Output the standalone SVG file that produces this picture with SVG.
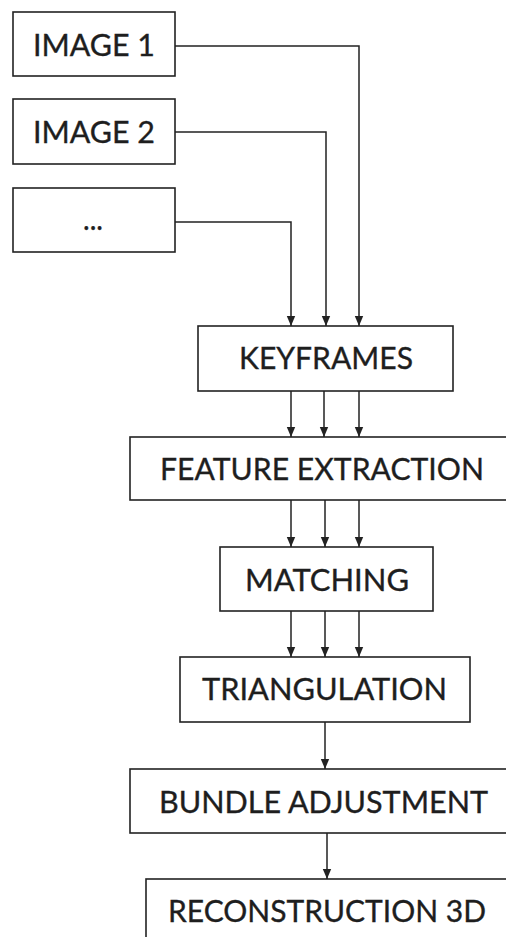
<svg xmlns="http://www.w3.org/2000/svg" width="506" height="937" viewBox="0 0 506 937">
  <style>
    .box { fill: #ffffff; stroke: #222222; stroke-width: 1.6; }
    .lbl { font-family: Lato, "Open Sans", sans-serif; font-size: 31px; fill: #1e1e1e; stroke: #1e1e1e; stroke-width: 0.35; }
    .wire { fill: none; stroke: #222222; stroke-width: 1.5; }
  </style>
  <defs>
    <marker id="arrow" markerUnits="userSpaceOnUse" markerWidth="10" markerHeight="10" viewBox="0 0 10 10" refX="10" refY="5" orient="auto">
      <path d="M0,0.8 L10,5 L0,9.2 z" fill="#222222"/>
    </marker>
  </defs>

  <rect width="506" height="937" fill="#ffffff"/>

  <g id="image1"><rect class="box" x="13" y="12" width="162" height="64"/><text class="lbl" x="33" y="56" textLength="122" lengthAdjust="spacingAndGlyphs">IMAGE 1</text></g>
  <g id="image2"><rect class="box" x="13" y="99" width="162" height="65"/><text class="lbl" x="33" y="143" textLength="122" lengthAdjust="spacingAndGlyphs">IMAGE 2</text></g>
  <g id="more"><rect class="box" x="13" y="188" width="162" height="64"/><text class="lbl" x="83" y="230" textLength="20" lengthAdjust="spacingAndGlyphs">...</text></g>
  <g id="keyframes"><rect class="box" x="198" y="326" width="255" height="65"/><text class="lbl" x="239" y="369" textLength="174" lengthAdjust="spacingAndGlyphs">KEYFRAMES</text></g>
  <g id="feature-extraction"><rect class="box" x="130" y="437" width="390" height="63"/><text class="lbl" x="160" y="480" textLength="324" lengthAdjust="spacingAndGlyphs">FEATURE EXTRACTION</text></g>
  <g id="matching"><rect class="box" x="220" y="547" width="213" height="64"/><text class="lbl" x="245" y="591" textLength="164" lengthAdjust="spacingAndGlyphs">MATCHING</text></g>
  <g id="triangulation"><rect class="box" x="180" y="657" width="290" height="65"/><text class="lbl" x="202" y="700" textLength="245" lengthAdjust="spacingAndGlyphs">TRIANGULATION</text></g>
  <g id="bundle-adjustment"><rect class="box" x="130" y="769" width="390" height="64"/><text class="lbl" x="159" y="813" textLength="329" lengthAdjust="spacingAndGlyphs">BUNDLE ADJUSTMENT</text></g>
  <g id="reconstruction-3d"><rect class="box" x="146" y="879" width="374" height="80"/><text class="lbl" x="168" y="922" textLength="318" lengthAdjust="spacingAndGlyphs">RECONSTRUCTION 3D</text></g>

  <g id="connectors">
    <path class="wire" marker-end="url(#arrow)" d="M175,46 H359 V326"/>
    <path class="wire" marker-end="url(#arrow)" d="M175,132 H326 V326"/>
    <path class="wire" marker-end="url(#arrow)" d="M175,222 H291 V326"/>

    <path class="wire" marker-end="url(#arrow)" d="M291,391 V437"/>
    <path class="wire" marker-end="url(#arrow)" d="M324,391 V437"/>
    <path class="wire" marker-end="url(#arrow)" d="M359,391 V437"/>

    <path class="wire" marker-end="url(#arrow)" d="M291,500 V547"/>
    <path class="wire" marker-end="url(#arrow)" d="M325,500 V547"/>
    <path class="wire" marker-end="url(#arrow)" d="M359,500 V547"/>

    <path class="wire" marker-end="url(#arrow)" d="M291,611 V657"/>
    <path class="wire" marker-end="url(#arrow)" d="M325,611 V657"/>
    <path class="wire" marker-end="url(#arrow)" d="M359,611 V657"/>

    <path class="wire" marker-end="url(#arrow)" d="M325,722 V769"/>
    <path class="wire" marker-end="url(#arrow)" d="M327,833 V879"/>
  </g>
</svg>
